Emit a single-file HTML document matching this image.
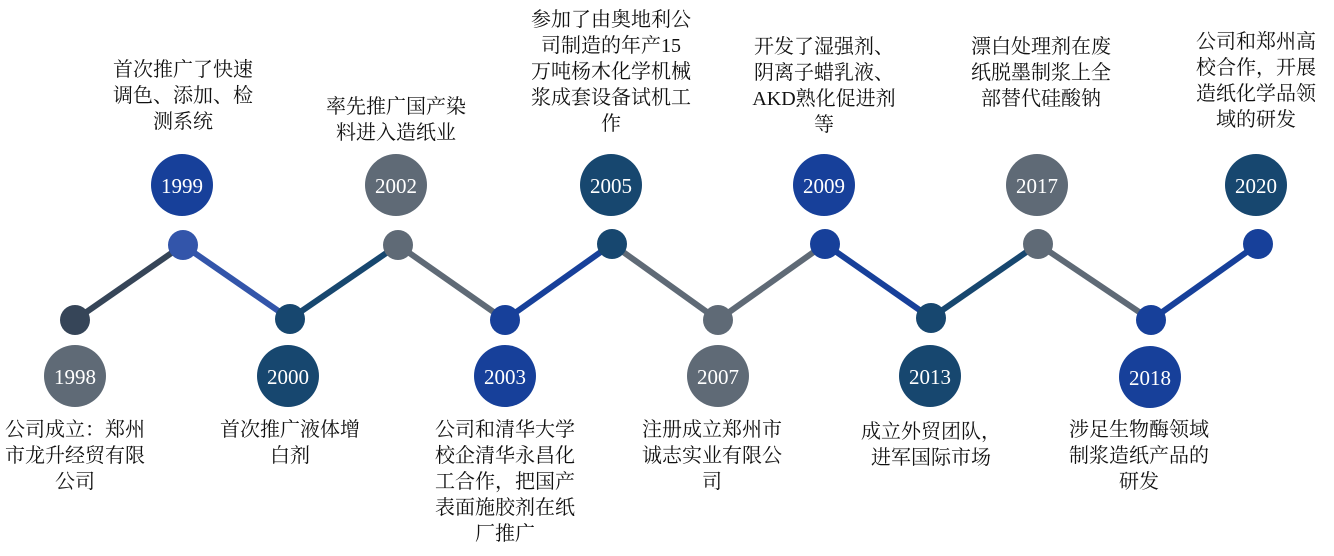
<!DOCTYPE html>
<html><head><meta charset="utf-8"><style>
body{margin:0;width:1334px;height:556px;background:#fff;position:relative;overflow:hidden}
.t{position:absolute;width:200px;text-align:center;font:20px/26px "Liberation Serif","Noto Serif CJK SC",serif;color:#111}
svg{position:absolute;left:0;top:0}
</style></head><body>
<svg width="1334" height="556">
<g stroke-width="6" fill="none">
<line x1="75" y1="320" x2="183" y2="245" stroke="#364558"/>
<line x1="183" y1="245" x2="290" y2="319" stroke="#3355aa"/>
<line x1="290" y1="319" x2="398" y2="245" stroke="#17476f"/>
<line x1="398" y1="245" x2="505" y2="320" stroke="#5f6a76"/>
<line x1="505" y1="320" x2="612" y2="244" stroke="#17409a"/>
<line x1="612" y1="244" x2="718" y2="320" stroke="#5f6a76"/>
<line x1="718" y1="320" x2="825" y2="244" stroke="#5f6a76"/>
<line x1="825" y1="244" x2="931" y2="318" stroke="#17409a"/>
<line x1="931" y1="318" x2="1038" y2="244" stroke="#17476f"/>
<line x1="1038" y1="244" x2="1151" y2="320" stroke="#5f6a76"/>
<line x1="1151" y1="320" x2="1258" y2="244" stroke="#17409a"/>
</g>
<g>
<circle cx="75" cy="320" r="15" fill="#364558"/>
<circle cx="183" cy="245" r="15" fill="#3355aa"/>
<circle cx="290" cy="319" r="15" fill="#17476f"/>
<circle cx="398" cy="245" r="15" fill="#5f6a76"/>
<circle cx="505" cy="320" r="15" fill="#17409a"/>
<circle cx="612" cy="244" r="15" fill="#17476f"/>
<circle cx="718" cy="320" r="15" fill="#5f6a76"/>
<circle cx="825" cy="244" r="15" fill="#17409a"/>
<circle cx="931" cy="318" r="15" fill="#17476f"/>
<circle cx="1038" cy="244" r="15" fill="#5f6a76"/>
<circle cx="1151" cy="320" r="15" fill="#17409a"/>
<circle cx="1258" cy="244" r="15" fill="#17409a"/>
</g>
<g>
<circle cx="75" cy="376" r="31" fill="#5f6a76"/>
<circle cx="182" cy="185" r="31" fill="#17409a"/>
<circle cx="288" cy="376" r="31" fill="#17476f"/>
<circle cx="396" cy="185" r="31" fill="#5f6a76"/>
<circle cx="505" cy="376" r="31" fill="#17409a"/>
<circle cx="611" cy="185" r="31" fill="#17476f"/>
<circle cx="718" cy="376" r="31" fill="#5f6a76"/>
<circle cx="824" cy="185" r="31" fill="#17409a"/>
<circle cx="930" cy="376" r="31" fill="#17476f"/>
<circle cx="1037" cy="185" r="31" fill="#5f6a76"/>
<circle cx="1150" cy="377" r="31" fill="#17409a"/>
<circle cx="1256" cy="185" r="31" fill="#17476f"/>
</g>
<g fill="#fff" font-family="Liberation Serif, serif" font-size="21" text-anchor="middle">
<text x="75" y="384">1998</text>
<text x="182" y="193">1999</text>
<text x="288" y="384">2000</text>
<text x="396" y="193">2002</text>
<text x="505" y="384">2003</text>
<text x="611" y="193">2005</text>
<text x="718" y="384">2007</text>
<text x="824" y="193">2009</text>
<text x="930" y="384">2013</text>
<text x="1037" y="193">2017</text>
<text x="1150" y="385">2018</text>
<text x="1256" y="193">2020</text>
</g>
</svg>
<div class="t" style="left:83px;top:57px;width:200px">首次推广了快速<br>调色、添加、检<br>测系统</div>
<div class="t" style="left:296px;top:94px">率先推广国产染<br>料进入造纸业</div>
<div class="t" style="left:511px;top:7px">参加了由奥地利公<br>司制造的年产15<br>万吨杨木化学机械<br>浆成套设备试机工<br>作</div>
<div class="t" style="left:724px;top:34px">开发了湿强剂、<br>阴离子蜡乳液、<br>AKD熟化促进剂<br>等</div>
<div class="t" style="left:941px;top:34px">漂白处理剂在废<br>纸脱墨制浆上全<br>部替代硅酸钠</div>
<div class="t" style="left:1156px;top:29px">公司和郑州高<br>校合作，开展<br>造纸化学品领<br>域的研发</div>
<div class="t" style="left:-25px;top:417px">公司成立：郑州<br>市龙升经贸有限<br>公司</div>
<div class="t" style="left:190px;top:417px">首次推广液体增<br>白剂</div>
<div class="t" style="left:405px;top:417px">公司和清华大学<br>校企清华永昌化<br>工合作，把国产<br>表面施胶剂在纸<br>厂推广</div>
<div class="t" style="left:612px;top:417px">注册成立郑州市<br>诚志实业有限公<br>司</div>
<div class="t" style="left:831px;top:419px">成立外贸团队，<br>进军国际市场</div>
<div class="t" style="left:1039px;top:417px">涉足生物酶领域<br>制浆造纸产品的<br>研发</div>
</body></html>
